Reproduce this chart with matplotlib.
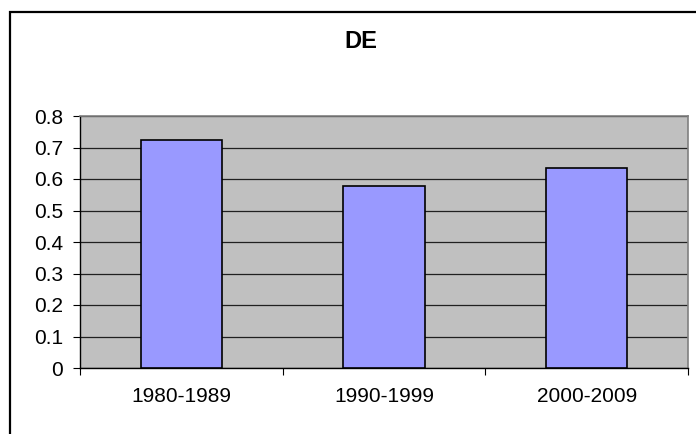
import matplotlib
matplotlib.use("Agg")
import matplotlib.pyplot as plt
from matplotlib.patches import Rectangle
import numpy as np

categories = ["1980-1989", "1990-1999", "2000-2009"]
values = [0.723, 0.578, 0.634]
yticks = [0, 0.1, 0.2, 0.3, 0.4, 0.5, 0.6, 0.7, 0.8]
title = "DE"

plt.rcParams['font.family'] = ['Liberation Sans', 'DejaVu Sans']

fig = plt.figure(figsize=(6.96, 4.34), dpi=100)
W, H = 696, 434
ax = fig.add_axes([80 / W, 1 - 368 / H, 608 / W, 252 / H])
ax.set_facecolor("#C0C0C0")

x = np.arange(len(categories))
ax.bar(x, values, width=0.4, color="#9999FF", edgecolor="black", linewidth=1.2, zorder=3)

ax.set_xlim(-0.5, len(categories) - 0.5)
ax.set_ylim(0, 0.8)
ax.set_yticks(yticks)
ax.set_yticklabels([f"{v:g}" for v in yticks])
ax.yaxis.grid(True, color="#202020", linewidth=0.9, zorder=1)
ax.set_axisbelow(True)

ax.set_xticks(x)
ax.set_xticklabels(categories)
ax.tick_params(axis="x", length=0, pad=14, labelsize=15)
ax.set_xticks(np.arange(-0.5, len(categories)), minor=True)
ax.tick_params(axis="x", which="minor", length=5, width=0.8, color="black", direction="out")
ax.tick_params(axis="y", length=5, width=0.8, direction="out", pad=7, labelsize=15)

for s in ["top", "right"]:
    ax.spines[s].set_color("#808080")
    ax.spines[s].set_linewidth(1.2)
for s in ["left", "bottom"]:
    ax.spines[s].set_color("black")
    ax.spines[s].set_linewidth(1.0)

fig.text(361 / W, 1 - 42 / H, title, ha="center", va="center", fontsize=17, fontweight="bold")

fig.patches.append(Rectangle((10 / W, -0.1), 1.2, 1 - 12 / H + 0.1, transform=fig.transFigure,
                             fill=False, edgecolor="black", linewidth=1.6))

fig.savefig("out.png", dpi=100)
